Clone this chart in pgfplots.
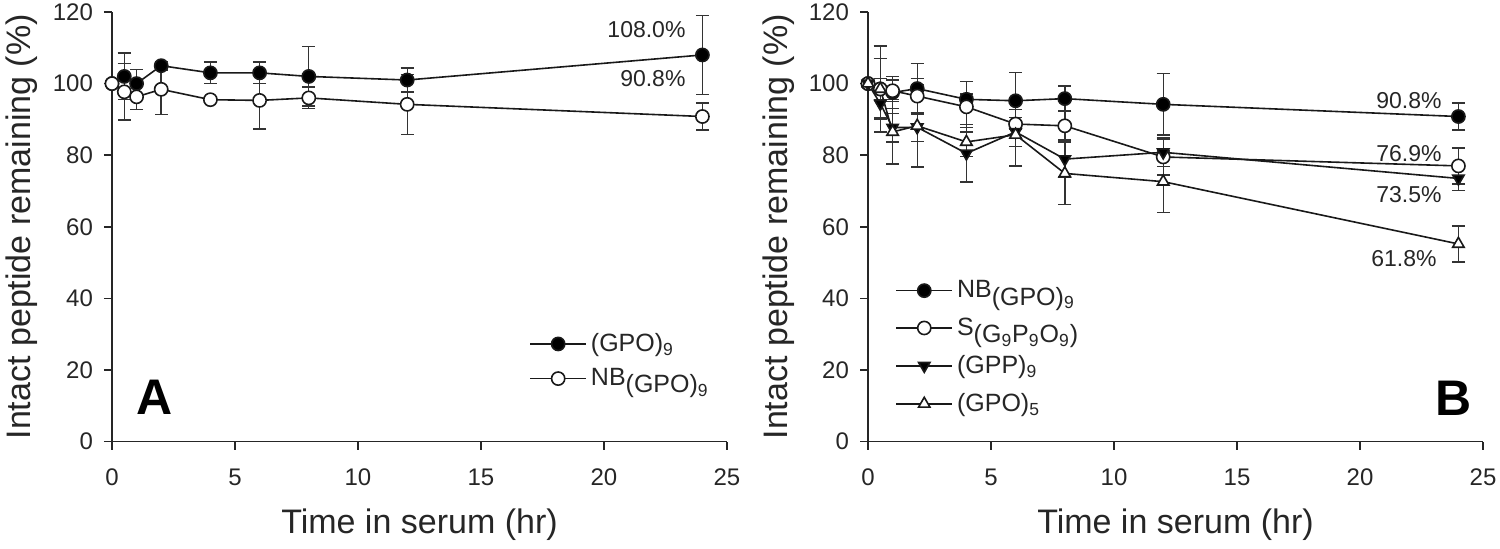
\documentclass[border=0pt]{standalone}
\usepackage{pgfplots}
\pgfplotsset{compat=1.18}
\usepackage{pgfplotstable}
\usepackage{fontspec}
\setmainfont{Liberation Sans}

\pgfplotstableread{
t y e
0 100 0
0.5 102 6.5
1 100 4
2 105 1.2
4 103 3
6 103 3
8 102 8.3
12 101 3.4
24 108 11
}\Agpo
\pgfplotstableread{
t y e
0 100 0
0.5 97.7 7.9
1 96.3 3.6
2 98.4 7
4 95.5 0.8
6 95.3 8
8 96 3
12 94.2 8.4
24 90.8 3.8
}\Anb
\pgfplotstableread{
t y e
0 100 0
0.5 98.5 8.5
1 97.5 4.5
2 98.6 7
4 95.6 1.5
6 95.2 7.9
8 95.8 3.5
12 94.2 8.6
24 90.8 3.8
}\Bnb
\pgfplotstableread{
t y e
0 100 0
0.5 98.5 3
1 98 3
2 96.5 5
4 93.5 7
6 88.7 4
8 88.2 4
12 79.5 5
24 77 5
}\Bs
\pgfplotstableread{
t y e
0 100 0
0.5 94.4 4
1 87.7 4
2 87.8 4
4 80.5 8
6 86.5 4
8 78.9 5
12 80.8 4
24 73.5 3.3
}\Bgpp
\pgfplotstableread{
t y e
0 100 0
0.5 98.5 12
1 86.5 9
2 88.2 11.5
4 83.7 4
6 85.7 8.7
8 74.9 8.6
12 72.6 8.6
24 55.2 5
}\Bgpo

\tikzset{pct/.style={anchor=east, font=\fontsize{11.5}{13}\selectfont, text=black!85}}

\pgfplotsset{
 mystyle/.style={
  scale only axis, width=307.5pt, height=214.75pt,
  xmin=0, xmax=25, ymin=0, ymax=120,
  xtick={0,5,...,25}, ytick={0,20,...,120},
  axis x line*=bottom, axis y line*=left,
  axis line style={line width=0.8pt, black!85},
  tick align=outside, major tick length=4pt,
  tick style={line width=0.8pt, black!85},
  clip=false,
  /pgf/number format/assume math mode=true,
  ticklabel style={font=\fontsize{12}{14}\selectfont, text=black!85},
  xticklabel style={yshift=-6pt},
  yticklabel style={xshift=-2pt},
  label style={font=\fontsize{17}{20}\selectfont, text=black!85},
  xlabel={Time in serum (hr)},
  ylabel={Intact peptide remaining (\%)},
  xlabel style={at={(axis description cs:0.5,-0.193)}, anchor=center},
  ylabel style={at={(axis description cs:-0.146,0.5)}, anchor=center},
  legend style={draw=none, fill=none, font=\fontsize{12.5}{14}\selectfont, text=black!85, row sep=4.5pt, inner sep=0pt},
  legend cell align=left,
  legend image code/.code={\draw[mark repeat=2,mark phase=2] plot coordinates {(0pt,0pt) (14pt,0pt) (28pt,0pt)};},
 },
 ser/.style={black!90, line width=0.8pt, mark size=3.3pt,
   error bars/y dir=both, error bars/y explicit,
   error bars/error bar style={line width=0.7pt, black!80},
   error bars/error mark options={rotate=90, mark size=3.3pt, line width=0.7pt, black!80}},
}

\begin{document}
\begin{tikzpicture}
\begin{axis}[mystyle, at={(0,0)},
  legend style={at={(axis description cs:0.678,0.262)}, anchor=north west, row sep=3pt}]
\addplot[ser, mark=*, mark options={fill=black, solid}] table[x=t,y=y,y error=e]{\Agpo};
\addlegendentry{(GPO)\textsubscript{9}}
\addplot[ser, mark=*, mark options={fill=white, solid}] table[x=t,y=y,y error=e]{\Anb};
\addlegendentry{NB\raisebox{-0.55ex}{(GPO)\textsubscript{9}}}
\node[pct] at (axis cs:23.6,115.2) {108.0\%};
\node[pct] at (axis cs:23.6,101.5) {90.8\%};
\node[font=\bfseries\fontsize{25}{30}\selectfont] at (axis cs:1.71,12.3) {A};
\end{axis}
\begin{axis}[mystyle, at={(378pt,0)},
  legend style={at={(axis description cs:0.044,0.385)}, anchor=north west}]
\addplot[ser, mark=*, mark options={fill=black, solid}] table[x=t,y=y,y error=e]{\Bnb};
\addlegendentry{NB\raisebox{-0.55ex}{(GPO)\textsubscript{9}}}
\addplot[ser, mark=*, mark options={fill=white, solid}] table[x=t,y=y,y error=e]{\Bs};
\addlegendentry{S\raisebox{-0.55ex}{(G\textsubscript{9}P\textsubscript{9}O\textsubscript{9})}}
\addplot[ser, mark=triangle*, mark options={fill=black, solid, rotate=180}] table[x=t,y=y,y error=e]{\Bgpp};
\addlegendentry{(GPP)\textsubscript{9}}
\addplot[ser, mark=triangle*, mark options={fill=white, solid}] table[x=t,y=y,y error=e]{\Bgpo};
\addlegendentry{(GPO)\textsubscript{5}}
\node[pct] at (axis cs:23.6,95.3) {90.8\%};
\node[pct] at (axis cs:23.6,80.5) {76.9\%};
\node[pct] at (axis cs:23.6,68.9) {73.5\%};
\node[pct] at (axis cs:23.4,51) {61.8\%};
\node[font=\bfseries\fontsize{25}{30}\selectfont] at (axis cs:23.8,12) {B};
\end{axis}
\pgfresetboundingbox
\useasboundingbox (-56pt,-53.25pt) rectangle (694pt,220.75pt);
\end{tikzpicture}
\end{document}
